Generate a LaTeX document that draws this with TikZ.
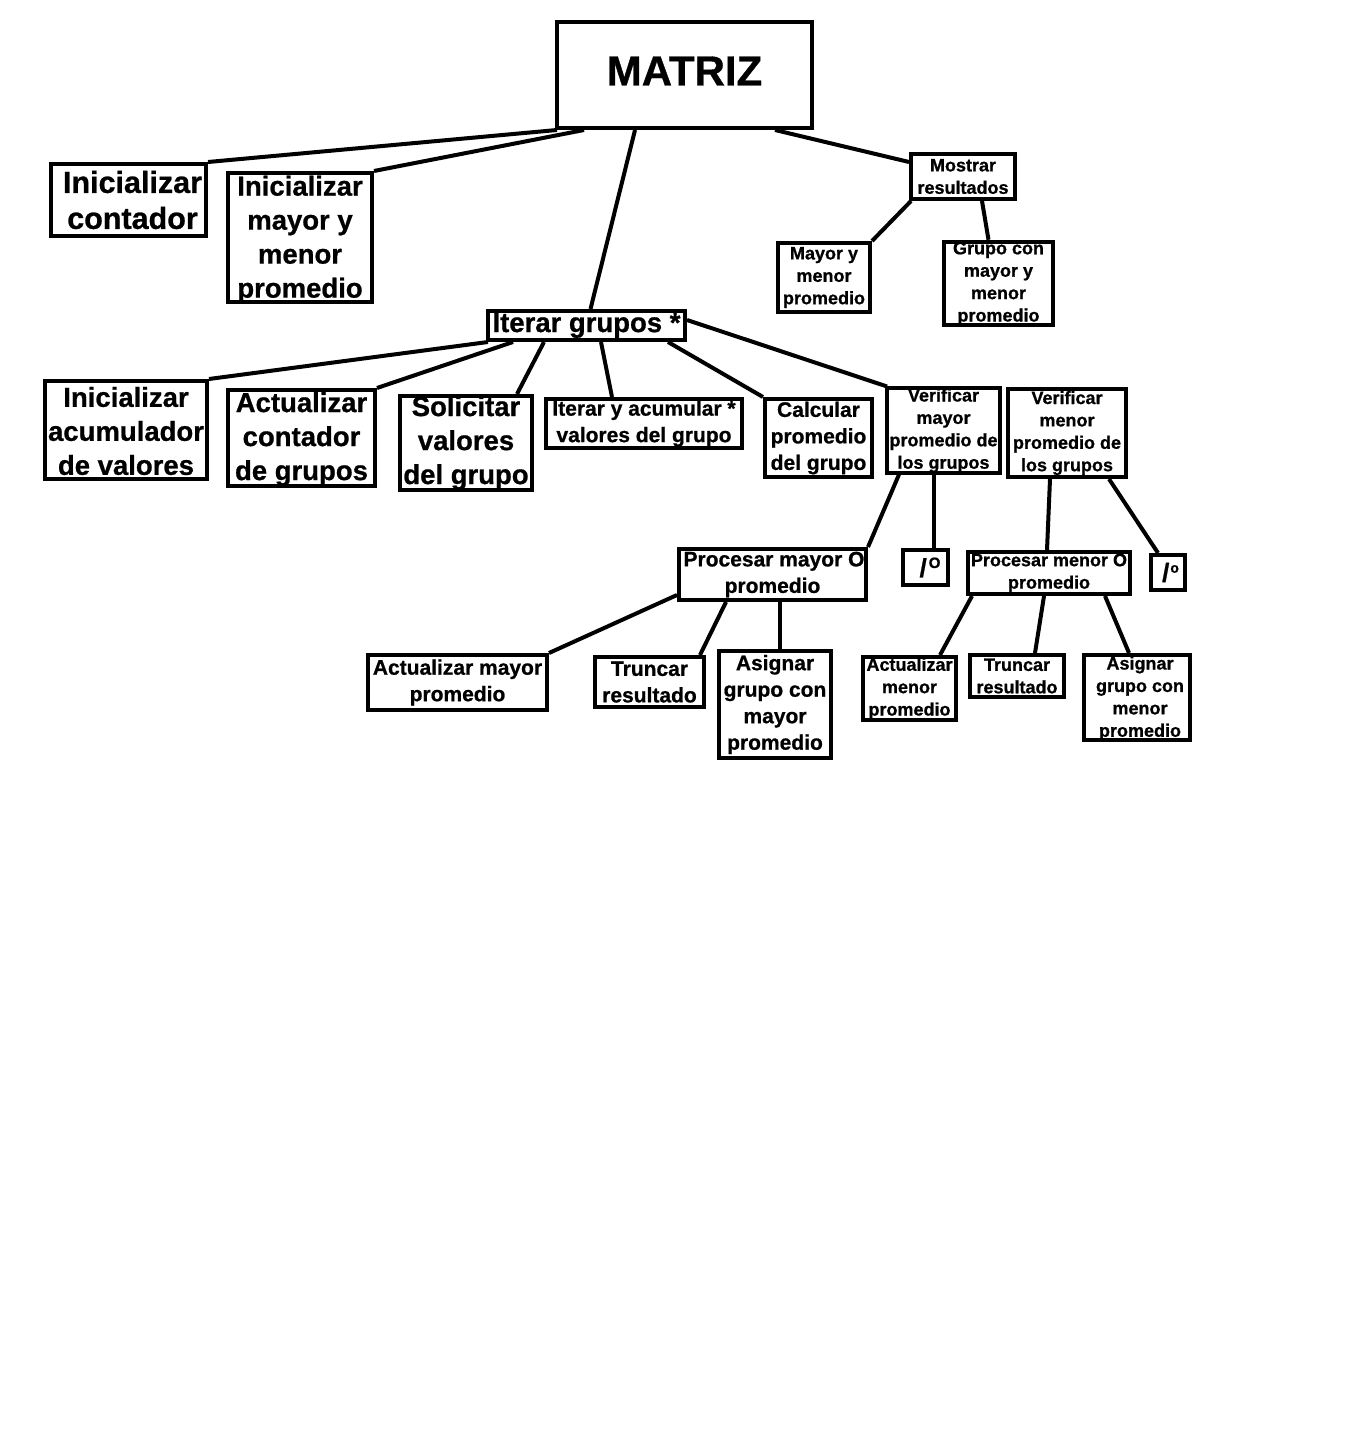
\documentclass[tikz,border=0pt]{standalone}
\usepackage{fontspec}
\setmainfont{Liberation Sans}[BoldFeatures={FakeBold=0.8}]
\begin{document}
\begin{tikzpicture}[x=1pt,y=-1pt,
  box/.style={draw, line width=4pt, inner sep=0pt, align=center},
  lab/.style={align=center, inner sep=0pt},
  fhuge/.style={font=\bfseries\fontsize{42}{48}\selectfont},
  fbig/.style={font=\bfseries\fontsize{27.5}{34}\selectfont},
  fbigx/.style={font=\bfseries\fontsize{30.5}{36}\selectfont},
  fmid/.style={font=\bfseries\fontsize{21}{26.5}\selectfont},
  fsmall/.style={font=\bfseries\fontsize{18}{22.4}\selectfont},
  link/.style={line width=4pt}]
\fill[white] (0,0) rectangle (1364,1431);
\useasboundingbox (0,0) rectangle (1364,1431);

% top level
\node[box,minimum width=255,minimum height=106,
  label={[lab,fhuge,yshift=4]center:MATRIZ}] (matriz) at (684.5,75) {};
\node[box,fbigx,minimum width=155,minimum height=72] (ic) at (128.5,200) {\hspace{8pt}Inicializar\\\hspace{8pt}contador};
\node[box,minimum width=144,minimum height=129,
  label={[lab,fbig,yshift=-2]center:{Inicializar\\mayor y\\menor\\promedio}}] (imm) at (300,237.5) {};
\node[box,fbig,minimum width=197,minimum height=29] (iter) at (586.5,325.5) {Iterar grupos *};
\node[box,fsmall,minimum width=104,minimum height=45] (mostrar) at (963,176.5) {Mostrar\\resultados};
\node[box,fsmall,minimum width=92,minimum height=69] (mym) at (824,277.5) {Mayor y\\menor\\promedio};
\node[box,fsmall,minimum width=109,minimum height=83] (gcm) at (998.5,283.5) {Grupo con\\mayor y\\menor\\promedio};

% second level
\node[box,minimum width=162,minimum height=98,
  label={[lab,fbig,yshift=-1]center:{Inicializar\\acumulador\\de valores}}] (iav) at (126,430) {};
\node[box,minimum width=147,minimum height=96,
  label={[lab,fbig,yshift=-1]center:{Actualizar\\contador\\de grupos}}] (acg) at (301.5,438) {};
\node[box,minimum width=132,minimum height=94,
  label={[lab,fbig,yshift=0]center:{Solicitar\\valores\\del grupo}}] (svg) at (466,443) {};
\node[box,fmid,minimum width=196,minimum height=49] (iyav) at (644,423.5) {Iterar y acumular *\\valores del grupo};
\node[box,fmid,minimum width=107,minimum height=78] (cpg) at (818.5,438) {Calcular\\promedio\\del grupo};
\node[box,fsmall,minimum width=113,minimum height=83] (vmay) at (943.5,430.5) {Verificar\\mayor\\promedio de\\los grupos};
\node[box,fsmall,minimum width=118,minimum height=88] (vmen) at (1067,433) {Verificar\\menor\\promedio de\\los grupos};

% third level
\node[box,fmid,minimum width=187,minimum height=51] (pmay) at (772.5,574.5) {\hspace{3pt}Procesar mayor O\\promedio};
\node[box,minimum width=45,minimum height=35,font=\bfseries\fontsize{26}{28}\selectfont] (s1) at (925.5,567.5) {\hspace{9pt}/\hspace{2pt}\raisebox{9pt}{\fontsize{15}{15}\selectfont O}};
\node[box,fsmall,minimum width=162,minimum height=42] (pmen) at (1049,573) {Procesar menor O\\promedio};
\node[box,minimum width=34,minimum height=35,font=\bfseries\fontsize{26}{28}\selectfont] (s2) at (1168,572.5) {\hspace{5pt}/\hspace{1pt}\raisebox{9pt}{\fontsize{14}{14}\selectfont o}};

% fourth level
\node[box,fmid,minimum width=179,minimum height=55] (amay) at (457.5,682.5) {Actualizar mayor\\promedio};
\node[box,fmid,minimum width=109,minimum height=50] (tr1) at (649.5,682) {Truncar\\resultado};
\node[box,fmid,minimum width=112,minimum height=107] (agmay) at (775,704.5) {Asignar\\grupo con\\mayor\\promedio};
\node[box,fsmall,minimum width=93,minimum height=63] (amen) at (909.5,688.5) {Actualizar\\menor\\promedio};
\node[box,fsmall,minimum width=94,minimum height=42] (tr2) at (1017,676) {Truncar\\resultado};
\node[box,minimum width=106,minimum height=85,
  label={[lab,fsmall,xshift=3,yshift=-1]center:{Asignar\\grupo con\\menor\\promedio}}] (agmen) at (1137,697.5) {};

% connectors
\draw[link] ([xshift=2]matriz.south west) -- (ic.north east);
\draw[link] ([xshift=29]matriz.south west) -- (imm.north east);
\draw[link] ([xshift=80]matriz.south west) -- ([xshift=4]iter.north);
\draw[link] ([xshift=-39]matriz.south east) -- ([yshift=-10]mostrar.north west);
\draw[link] ([xshift=2]mostrar.south west) -- (mym.north east);
\draw[link] ([xshift=19]mostrar.south) -- ([xshift=-10]gcm.north);

\draw[link] ([xshift=2]iter.south west) -- (iav.north east);
\draw[link] ([xshift=27]iter.south west) -- (acg.north east);
\draw[link] ([xshift=58]iter.south west) -- ([xshift=-17]svg.north east);
\draw[link] ([xshift=14.5]iter.south) -- ([xshift=-32]iyav.north);
\draw[link] ([xshift=-19]iter.south east) -- (cpg.north west);
\draw[link] ([yshift=5.5]iter.east) -- ([xshift=2]vmay.north west);

\draw[link] ([xshift=14]vmay.south west) -- (pmay.north east);
\draw[link] ([xshift=-9.5]vmay.south) -- ([xshift=8.5]s1.north);
\draw[link] ([xshift=-17]vmen.south) -- ([xshift=-2]pmen.north);
\draw[link] ([xshift=-19]vmen.south east) -- ([xshift=9]s2.north west);

\draw[link] ([yshift=7]pmay.south west) -- (amay.north east);
\draw[link] ([xshift=-46.5]pmay.south) -- ([xshift=-6]tr1.north east);
\draw[link] ([xshift=7.5]pmay.south) -- ([xshift=5]agmay.north);
\draw[link] ([xshift=6]pmen.south west) -- ([xshift=30.5]amen.north);
\draw[link] ([xshift=-5]pmen.south) -- ([xshift=18]tr2.north);
\draw[link] ([xshift=-27]pmen.south east) -- ([xshift=-8]agmen.north);
\end{tikzpicture}
\end{document}
